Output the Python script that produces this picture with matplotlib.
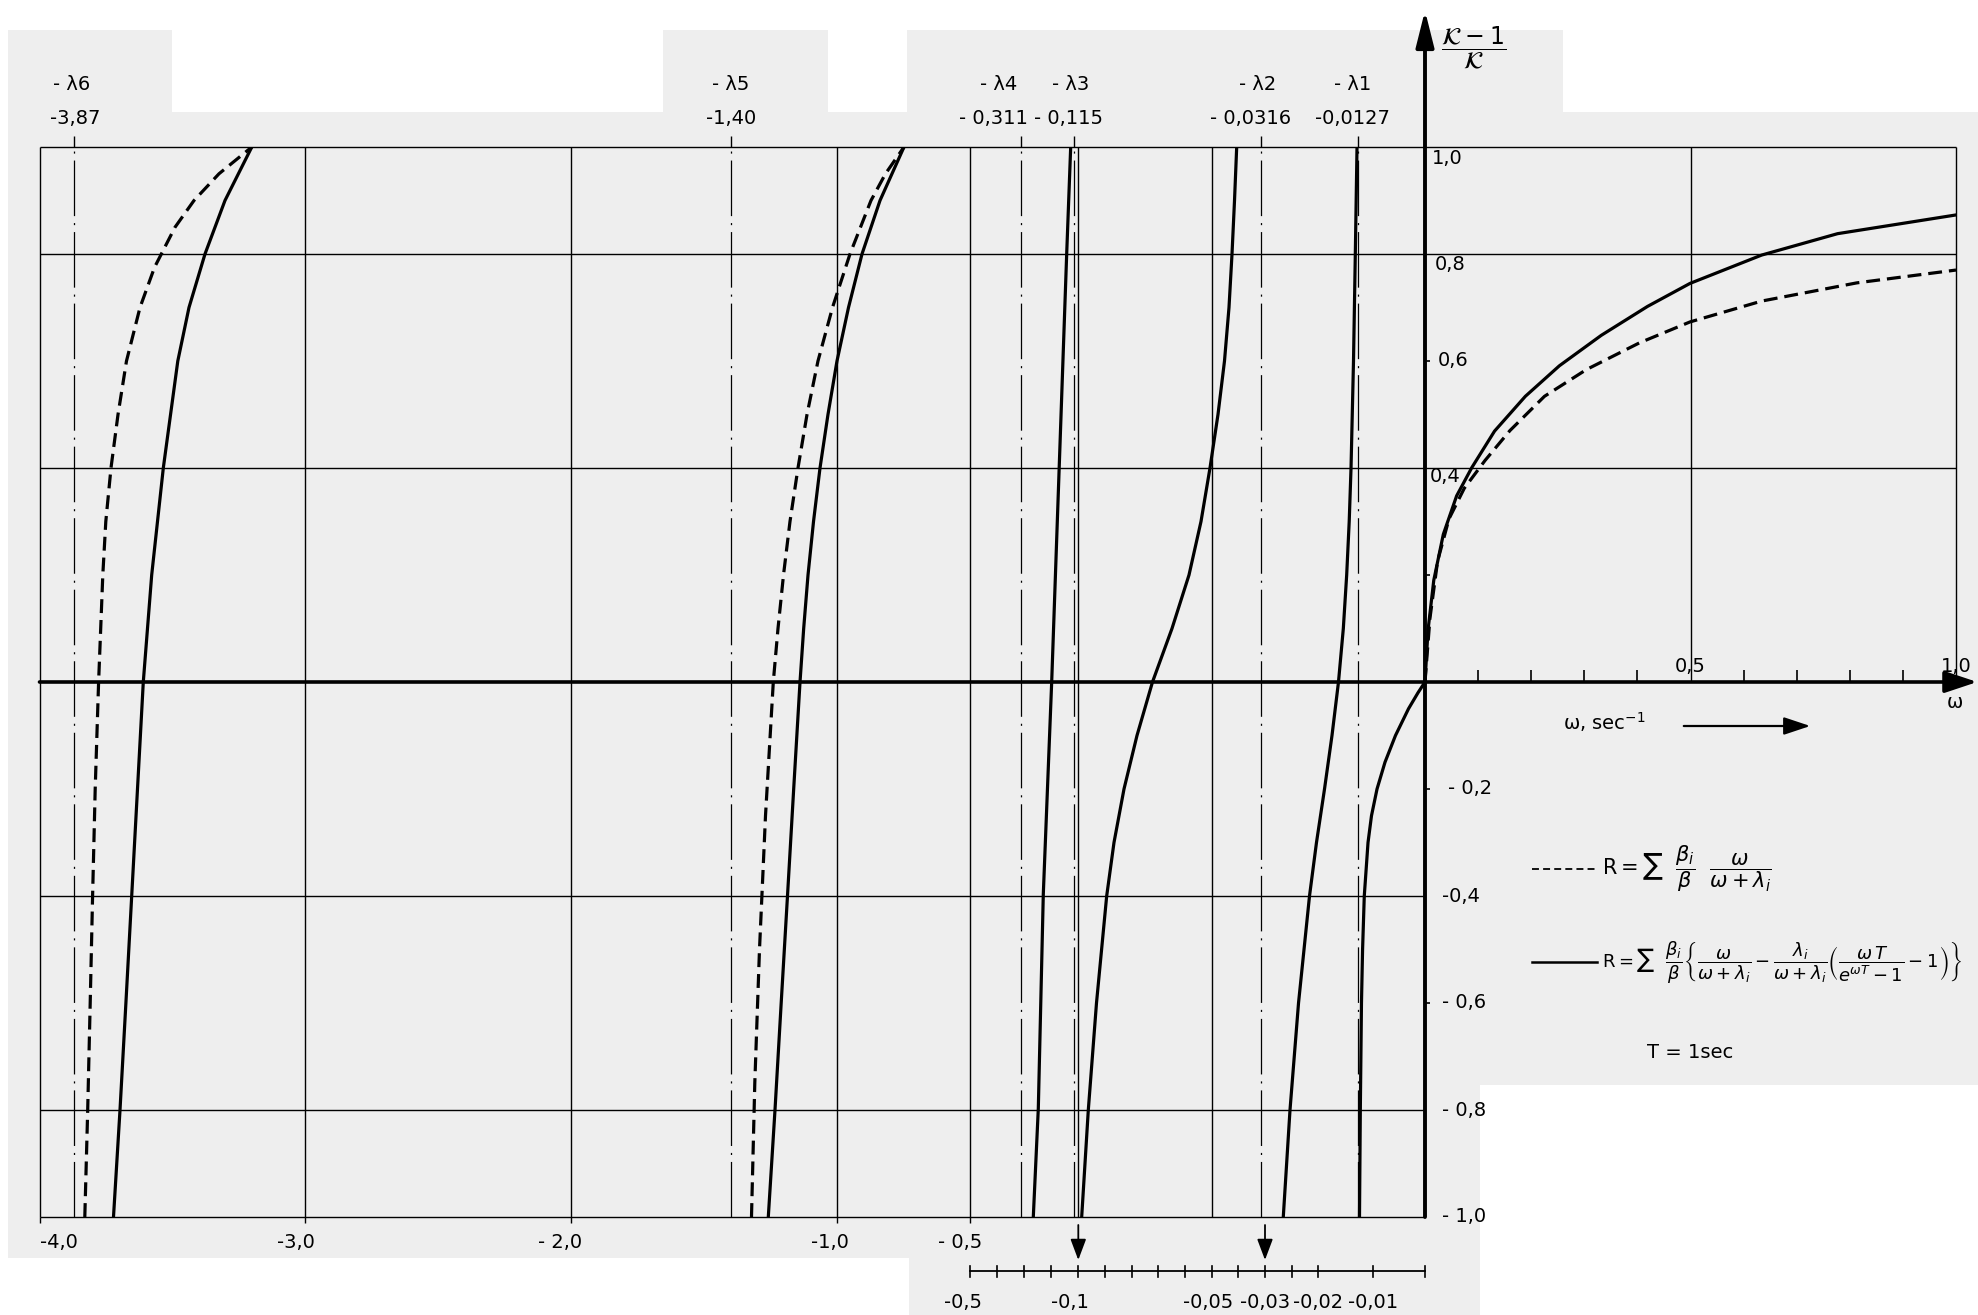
import numpy as np
import matplotlib
matplotlib.use("Agg")
import matplotlib.pyplot as plt
import matplotlib.transforms as mtransforms
from matplotlib.patches import Rectangle, FancyArrowPatch
from matplotlib.lines import Line2D

plt.rcParams['font.family'] = ['DejaVu Sans']
plt.rcParams['mathtext.fontset'] = 'dejavusans'
plt.rcParams['lines.scale_dashes'] = False

# ---------------- data (omega in 1/s, reactivity (K-1)/K) ----------------
LAMBDA_W = [-3.87, -1.40, -0.311, -0.115, -0.0316, -0.0127]
LAMBDA_NAMES = ["- λ6", "- λ5", "- λ4", "- λ3", "- λ2", "- λ1"]
LAMBDA_VALUES = ["-3,87", "-1,40", "- 0,311", "- 0,115", "- 0,0316", "-0,0127"]

L6_DASH_W = [-3.8296, -3.8187, -3.8093, -3.8003, -3.7905, -3.7777, -3.7619, -3.7506, -3.7311,
             -3.7047, -3.6728, -3.6220, -3.5674, -3.4903, -3.4189, -3.3248, -3.2014]
L6_DASH_R = [-1.0, -0.8, -0.6, -0.4, -0.2, 0.0, 0.2, 0.3, 0.4,
             0.5, 0.6, 0.7, 0.775, 0.85, 0.9, 0.95, 1.0]
L6_SOLID_W = [-3.7217, -3.6972, -3.6750, -3.6532, -3.6314, -3.6096, -3.5780, -3.5343,
              -3.4798, -3.4377, -3.3775, -3.3023, -3.2014]
L6_SOLID_R = [-1.0, -0.8, -0.6, -0.4, -0.2, 0.0, 0.2, 0.4, 0.6, 0.7, 0.8, 0.9, 1.0]

L5_DASH_W = [-1.3219, -1.3095, -1.2918, -1.2692, -1.2399, -1.2222, -1.2015, -1.1771, -1.1470,
             -1.1131, -1.0718, -1.0172, -0.9514, -0.8724, -0.8179, -0.7483]
L5_DASH_R = [-1.0, -0.75, -0.5, -0.25, 0.0, 0.1, 0.2, 0.3, 0.4,
             0.5, 0.6, 0.7, 0.8, 0.9, 0.95, 1.0]
L5_SOLID_W = [-1.2587, -1.2335, -1.2102, -1.1865, -1.1632, -1.1394, -1.1256, -1.1093, -1.0886,
              -1.0642, -1.0342, -1.0003, -0.9570, -0.9062, -0.8385, -0.7483]
L5_SOLID_R = [-1.0, -0.8, -0.6, -0.4, -0.2, 0.0, 0.1, 0.2, 0.3,
              0.4, 0.5, 0.6, 0.7, 0.8, 0.9, 1.0]

L4_SOLID_W = [-0.2662, -0.2477, -0.2293, -0.1983, -0.1702, -0.1429, -0.1281]
L4_SOLID_R = [-1.0, -0.797, -0.397, 0.0, 0.406, 0.8, 1.0]

L3_SOLID_W = [-0.09873, -0.09625, -0.09318, -0.08936, -0.08662, -0.08287, -0.07800, -0.07219,
              -0.06488, -0.05851, -0.05401, -0.05064, -0.04764, -0.04520, -0.04351, -0.04238,
              -0.04144, -0.04062]
L3_SOLID_R = [-1.0, -0.8, -0.6, -0.4, -0.3, -0.2, -0.1, 0.0,
              0.1, 0.2, 0.3, 0.4, 0.5, 0.6, 0.7, 0.8, 0.9, 1.0]

L2_SOLID_W = [-0.02657, -0.02531, -0.02371, -0.02165, -0.02034, -0.01887, -0.01751, -0.01633,
              -0.01545, -0.01484, -0.01438, -0.01405, -0.01360, -0.01327, -0.01296]
L2_SOLID_R = [-1.0, -0.8, -0.6, -0.4, -0.3, -0.2, -0.1, 0.0,
              0.1, 0.2, 0.3, 0.4, 0.6, 0.8, 1.0]

L1_SOLID_W = [-0.01251, -0.01236, -0.01215, -0.01195, -0.01164, -0.01096, -0.01033, -0.00928,
              -0.00774, -0.00571, -0.00319, -0.00135, 0.0]
L1_SOLID_R = [-1.0, -0.8, -0.6, -0.5, -0.4, -0.3, -0.25, -0.2,
              -0.15, -0.1, -0.05, -0.02, 0.0]

POS_SOLID_W = [0.0, 0.0057, 0.0165, 0.0345, 0.0596, 0.0883, 0.131, 0.189, 0.253, 0.332, 0.419, 0.499, 0.634, 0.777, 1.0]
POS_SOLID_R = [0.0, 0.097, 0.190, 0.276, 0.348, 0.401, 0.469, 0.534, 0.591, 0.648, 0.702, 0.745, 0.798, 0.838, 0.873]
POS_DASH_W = [0.0, 0.0093, 0.0237, 0.0452, 0.0739, 0.113, 0.160, 0.225, 0.304, 0.404, 0.499, 0.634, 0.813, 1.0]
POS_DASH_R = [0.0, 0.119, 0.226, 0.305, 0.362, 0.414, 0.470, 0.534, 0.584, 0.634, 0.673, 0.712, 0.746, 0.770]

# axis / grid definitions
GRID_X_NEG = [-4.0, -3.0, -2.0, -1.0, -0.5, -0.1, -0.05]
GRID_X_POS = [0.5, 1.0]
GRID_Y_UP = [1.0, 0.8, 0.4]
GRID_Y_LOW = [-0.4, -0.8, -1.0]
BOTTOM_TICKS = [-4.0, -3.0, -2.0, -1.0, -0.5]
BOTTOM_LABELS = ["-4,0", "-3,0", "- 2,0", "-1,0", "- 0,5"]
SEC_TICKS = [-0.5, -0.4, -0.3, -0.2, -0.1, -0.09, -0.08, -0.07, -0.06, -0.05, -0.04, -0.03, -0.025, -0.02, -0.01, 0.0]
SEC_LABEL_W = [-0.5, -0.1, -0.05, -0.03, -0.02, -0.01]
SEC_LABELS = ["-0,5", "-0,1", "-0,05", "-0,03", "-0,02", "-0,01"]
ARROW_W = [-0.1, -0.03]
POS_MINOR = [0.1, 0.2, 0.3, 0.4, 0.6, 0.7, 0.8, 0.9]
Y_TICKS = [1.0, 0.8, 0.6, 0.4, -0.2, -0.4, -0.6, -0.8, -1.0]
Y_LABELS = ["1,0", "0,8", "0,6", "0,4", "- 0,2", "-0,4", "- 0,6", "- 0,8", "- 1,0"]

# piecewise omega scale of the chart (omega -> drawing units)
SCALE_W = [-10.0, -4.0, -0.5, -0.1, -0.05, -0.03, -0.02, -0.01, 0.0, 1.0, 10.0]
SCALE_U = [-1555.6, 39.5, 970.0, 1078.3, 1211.7, 1265.0, 1318.3, 1373.3, 1425.0, 1956.0, 6735.0]


def fwd(x):
    return np.interp(np.asarray(x, dtype=float), SCALE_W, SCALE_U)


def inv(u):
    return np.interp(np.asarray(u, dtype=float), SCALE_U, SCALE_W)


W, H = 1978, 1315
fig = plt.figure(figsize=(W / 100, H / 100), dpi=100)
fig.patch.set_facecolor('white')


def fx(px):
    return px / W


def fy(py):
    return 1 - py / H


GRAY = '#eeeeee'
for (x0, y0, x1, y1, c, z) in [(8, 112, 1978, 1258, GRAY, -10), (8, 30, 172, 112, GRAY, -10),
                               (663, 30, 828, 112, GRAY, -10), (907, 30, 1563, 112, GRAY, -10),
                               (909, 1258, 1480, 1315, GRAY, -10), (1480, 1085, 1978, 1315, 'white', -9)]:
    fig.add_artist(Rectangle((fx(x0), fy(y1)), fx(x1) - fx(x0), fy(y0) - fy(y1),
                             transform=fig.transFigure, facecolor=c, edgecolor='none', zorder=z))

AX_L, AX_R, AX_T, AX_B = 39.5, 1956.0, 147.0, 1217.0
ax = fig.add_axes([fx(AX_L), fy(AX_B), fx(AX_R) - fx(AX_L), fy(AX_T) - fy(AX_B)])
ax.set_xscale('function', functions=(fwd, inv))
ax.set_xlim(-4.0, 1.0)
ax.set_ylim(-1.0, 1.0)
ax.set_autoscale_on(False)
ax.axis('off')

trans = mtransforms.blended_transform_factory(ax.transData, fig.transFigure)

GLW = 1.0
ax.hlines(GRID_Y_UP, -4.0, 1.0, color='k', lw=GLW, clip_on=False, zorder=2)
ax.hlines(GRID_Y_LOW, -4.0, 0.0, color='k', lw=GLW, clip_on=False, zorder=2)
ax.vlines(GRID_X_NEG, -1.0, 1.0, color='k', lw=GLW, clip_on=False, zorder=2)
ax.vlines(GRID_X_POS, 0.0, 1.0, color='k', lw=GLW, clip_on=False, zorder=2)
ax.vlines(BOTTOM_TICKS, -1.012, -1.0, color='k', lw=GLW, clip_on=False, zorder=2)
ax.vlines(POS_MINOR, 0.0, 0.022, color='k', lw=1.2, clip_on=False, zorder=2)
ax.hlines([0.2, 0.6, -0.2, -0.6], 0.0, 0.009, color='k', lw=1.2, clip_on=False, zorder=2)

# lambda asymptotes
for lw_ in LAMBDA_W:
    ax.plot([lw_, lw_], [-1.0, 1.0], color='k', lw=0.9, dashes=(40, 5, 1.5, 5), clip_on=False, zorder=2)
ax.vlines(LAMBDA_W, 1.0, 1.02, color='k', lw=1.0, clip_on=False, zorder=2)

# main axes with arrows
ax.annotate('', xy=(1.04, 0.0), xytext=(-4.0, 0.0), xycoords='data',
            arrowprops=dict(arrowstyle='-|>,head_length=0.9,head_width=0.3', color='k', lw=2.6,
                            shrinkA=0, shrinkB=0, mutation_scale=22), annotation_clip=False, zorder=4)
ax.annotate('', xy=(0.0, 1.255), xytext=(0.0, -1.0), xycoords='data',
            arrowprops=dict(arrowstyle='-|>,head_length=1.0,head_width=0.25', color='k', lw=2.8,
                            shrinkA=0, shrinkB=0, mutation_scale=22), annotation_clip=False, zorder=4)

# curves
CLW = 2.3
DASH = (10, 5)
ax.plot(L6_DASH_W, L6_DASH_R, color='k', lw=CLW, dashes=DASH, zorder=3)
ax.plot(L6_SOLID_W, L6_SOLID_R, color='k', lw=CLW, zorder=3)
ax.plot(L5_DASH_W, L5_DASH_R, color='k', lw=CLW, dashes=DASH, zorder=3)
ax.plot(L5_SOLID_W, L5_SOLID_R, color='k', lw=CLW, zorder=3)
ax.plot(L4_SOLID_W, L4_SOLID_R, color='k', lw=CLW, zorder=3)
ax.plot(L3_SOLID_W, L3_SOLID_R, color='k', lw=CLW, zorder=3)
ax.plot(L2_SOLID_W, L2_SOLID_R, color='k', lw=CLW, zorder=3)
ax.plot(L1_SOLID_W, L1_SOLID_R, color='k', lw=CLW, zorder=3)
ax.plot(POS_SOLID_W, POS_SOLID_R, color='k', lw=CLW, zorder=3)
ax.plot(POS_DASH_W, POS_DASH_R, color='k', lw=CLW, dashes=DASH, zorder=3)

FS = 14


def label_at(x, ypx, s, dx=0, ha='center', va='center', size=FS, **kw):
    ax.annotate(s, xy=(x, fy(ypx)), xycoords=trans,
                xytext=(dx, 0), textcoords='offset pixels', ha=ha, va=va,
                fontsize=size, annotation_clip=False, **kw)


# top lambda labels
NAME_DX = [-2, 0, -23, -4, -3, -6]
VAL_DX = [1, 0, -28, -6, -10, -6]
for lw_, nm, vl, d1, d2 in zip(LAMBDA_W, LAMBDA_NAMES, LAMBDA_VALUES, NAME_DX, VAL_DX):
    label_at(lw_, 84, nm, dx=d1)
    label_at(lw_, 118, vl, dx=d2)

# bottom labels
BOT_DX = [19, -9, -11, -7, -10]
for xv, s, d in zip(BOTTOM_TICKS, BOTTOM_LABELS, BOT_DX):
    label_at(xv, 1242, s, dx=d)

# secondary scale below
ax.add_line(Line2D([-0.5, 0.0], [fy(1271), fy(1271)], transform=trans, color='k', lw=1.3, clip_on=False))
for xv in SEC_TICKS:
    ax.add_line(Line2D([xv, xv], [fy(1266), fy(1277)], transform=trans, color='k', lw=1.2, clip_on=False))
SEC_DX = [-7, -8, -4, 0, 0, 0]
for xv, s, d in zip(SEC_LABEL_W, SEC_LABELS, SEC_DX):
    label_at(xv, 1302, s, dx=d)
for xv in ARROW_W:
    ax.annotate('', xy=(xv, fy(1260)), xytext=(xv, fy(1225)), xycoords=trans,
                arrowprops=dict(arrowstyle='-|>,head_length=0.8,head_width=0.3', color='k', lw=1.3,
                                shrinkA=0, shrinkB=0, mutation_scale=16), annotation_clip=False)

# y labels along omega = 0
Y_DX = [7, 10, 13, 5, 23, 17, 17, 17, 17]
Y_DY = [11, 11, 0, 8, 0, 0, 0, 0, 0]
for yv, s, d, dyy in zip(Y_TICKS, Y_LABELS, Y_DX, Y_DY):
    ax.annotate(s, xy=(0.0, yv), xycoords='data', xytext=(d, -dyy), textcoords='offset pixels',
                ha='left', va='center', fontsize=FS, annotation_clip=False)

# positive x labels
for xv, s in zip([0.5, 1.0], ["0,5", "1,0"]):
    ax.annotate(s, xy=(xv, 0.0), xycoords='data', xytext=(0, 16), textcoords='offset pixels',
                ha='center', va='center', fontsize=FS, annotation_clip=False)

fig.text(fx(1955), fy(703), "ω", ha='center', va='center', fontsize=FS)
fig.text(fx(1563), fy(722), r"ω, sec$^{-1}$", ha='left', va='center', fontsize=FS)
fig.add_artist(FancyArrowPatch((fx(1681), fy(726)), (fx(1813), fy(726)),
                               transform=fig.transFigure,
                               arrowstyle='-|>,head_length=0.9,head_width=0.3',
                               mutation_scale=18, color='k', lw=1.6))
fig.text(fx(1474), fy(48), r"$\dfrac{\mathcal{K}-1}{\mathcal{K}}$", ha='center', va='center', fontsize=17)

# legend
fig.add_artist(Line2D([fx(1532), fx(1597)], [fy(869), fy(869)], transform=fig.transFigure,
                      color='k', lw=1.3, dashes=(5, 3)))
fig.add_artist(Line2D([fx(1532), fx(1597)], [fy(962), fy(962)], transform=fig.transFigure,
                      color='k', lw=1.8))
F1 = r"$\mathrm{R}=\sum\ \ \dfrac{\beta_i}{\beta}\ \ \dfrac{\omega}{\omega+\lambda_i}$"
F2 = (r"$\mathrm{R}=\sum\ \ \dfrac{\beta_i}{\beta}\left\{\dfrac{\omega}{\omega+\lambda_i}-"
      r"\dfrac{\lambda_i}{\omega+\lambda_i}\left(\dfrac{\omega\,T}{e^{\omega T}-1}-1\right)\right\}$")
fig.text(fx(1602), fy(869), F1, ha='left', va='center', fontsize=15)
fig.text(fx(1602), fy(962), F2, ha='left', va='center', fontsize=13)
fig.text(fx(1647), fy(1053), "T = 1sec", ha='left', va='center', fontsize=FS)

fig.savefig("out.png", dpi=100, facecolor=fig.get_facecolor())
